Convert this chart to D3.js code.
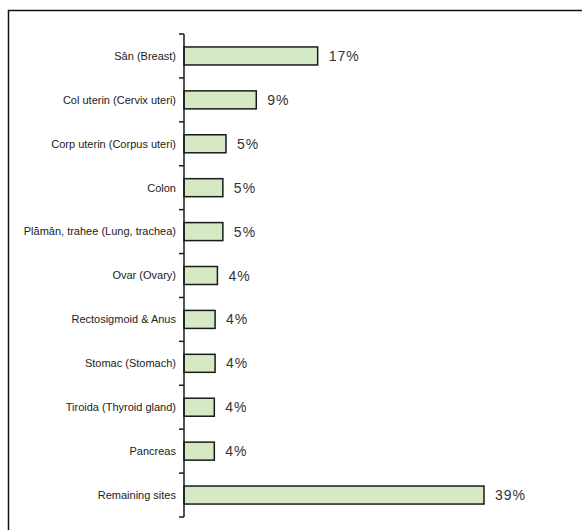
<!DOCTYPE html>
<html>
<head>
<meta charset="utf-8">
<script src="https://cdn.jsdelivr.net/npm/d3@7"></script>
<style>
  html, body { margin: 0; padding: 0; background: #fff; }
  svg { display: block; }
</style>
</head>
<body>
<svg id="chart" width="582" height="530"></svg>
<script>
const categories = [
  "Sân (Breast)",
  "Col uterin (Cervix uteri)",
  "Corp uterin (Corpus uteri)",
  "Colon",
  "Plămân, trahee (Lung, trachea)",
  "Ovar (Ovary)",
  "Rectosigmoid & Anus",
  "Stomac (Stomach)",
  "Tiroida (Thyroid gland)",
  "Pancreas",
  "Remaining sites"
];
const values = [17.2, 9.3, 5.4, 5.0, 5.0, 4.3, 4.0, 4.0, 3.9, 3.9, 38.6];

const svg = d3.select("#chart");

// outer frame (extends past the right/bottom edge as in the reference)
svg.append("rect")
  .attr("x", 8.5).attr("y", 10.5)
  .attr("width", 620).attr("height", 560)
  .attr("fill", "#fff")
  .attr("stroke", "#111")
  .attr("stroke-width", 1.5);

const x0 = 184;
const x = d3.scaleLinear().domain([0, 38.6]).range([x0, 484]);
const y = d3.scaleBand().domain(categories).range([34, 517]).paddingInner(0.59).paddingOuter(0.295);

// bars
svg.append("g").selectAll("rect")
  .data(values)
  .join("rect")
  .attr("x", x(0))
  .attr("y", (d, i) => y(categories[i]))
  .attr("width", d => x(d) - x(0))
  .attr("height", y.bandwidth())
  .attr("fill", "#d5e9c5")
  .attr("stroke", "#1a1a1a")
  .attr("stroke-width", 1.5);

// value labels
svg.append("g").selectAll("text")
  .data(values)
  .join("text")
  .attr("x", d => x(d) + 11)
  .attr("y", (d, i) => y(categories[i]) + y.bandwidth() / 2)
  .attr("dy", "0.36em")
  .attr("font-family", "Liberation Sans, Arial, sans-serif")
  .attr("font-size", 14)
  .attr("letter-spacing", 1)
  .attr("fill", "#333")
  .text(d => Math.round(d) + "%");

// category axis
const tickPos = d3.range(categories.length + 1).map(i => 34 + i * (517 - 34) / categories.length);
const axis = svg.append("g");
axis.append("line")
  .attr("x1", x0).attr("x2", x0)
  .attr("y1", tickPos[0]).attr("y2", tickPos[tickPos.length - 1])
  .attr("stroke", "#1a1a1a").attr("stroke-width", 1.5);
axis.selectAll("line.tick")
  .data(tickPos)
  .join("line")
  .attr("class", "tick")
  .attr("x1", x0 - 5).attr("x2", x0)
  .attr("y1", d => d).attr("y2", d => d)
  .attr("stroke", "#1a1a1a").attr("stroke-width", 1.5);

axis.selectAll("text")
  .data(categories)
  .join("text")
  .attr("x", 176)
  .attr("y", d => y(d) + y.bandwidth() / 2)
  .attr("dy", "0.35em")
  .attr("text-anchor", "end")
  .attr("font-family", "Liberation Sans, Arial, sans-serif")
  .attr("font-size", 11)
  .attr("fill", "#222")
  .text(d => d);
</script>
</body>
</html>
